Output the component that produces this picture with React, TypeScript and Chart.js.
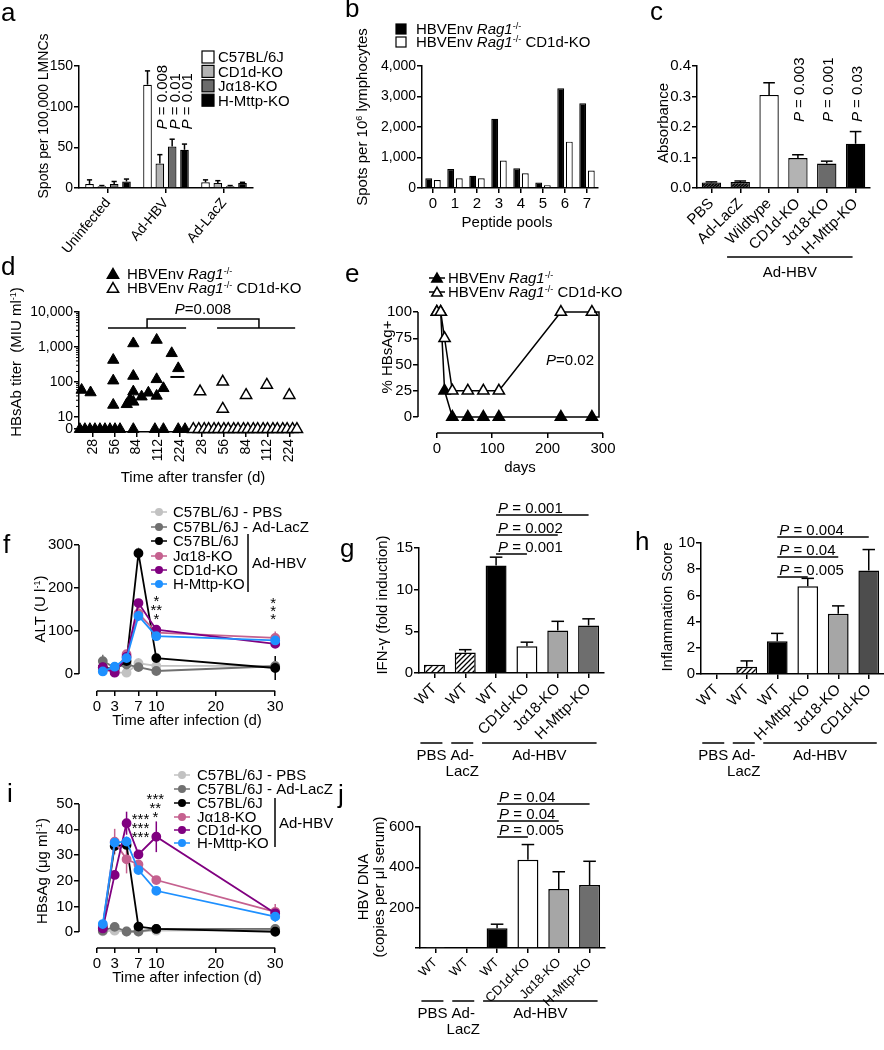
import React, { useEffect, useRef } from "react";
import { Chart, registerables } from "chart.js";

Chart.register(...registerables);

const PAGE_W = 884;
const PAGE_H = 1050;
const FONT = "'Liberation Sans', Arial, Helvetica, sans-serif";
const Y_BOX = 70;
const X_BOX = 90;

// ================= DATA =================
// panel a
const aGroups = ["Uninfected", "Ad-HBV", "Ad-LacZ"];
const aSeriesNames = ["C57BL/6J", "CD1d-KO", "Jα18-KO", "H-Mttp-KO"];
const aC57 = [5, 127, 7];
const aC57Err = [5, 17, 3];
const aCD1d = [2, 30, 6];
const aCD1dErr = [1, 11, 3];
const aJa18 = [5, 51, 2];
const aJa18Err = [3, 9, 1];
const aHMttp = [8, 47, 6];
const aHMttpErr = [3, 7, 1];
const aPValues = ["0.008", "0.01", "0.01"];
const aTicks = [0, 50, 100, 150];

// panel b
const bPools = ["0", "1", "2", "3", "4", "5", "6", "7"];
const bRag1 = [320, 620, 400, 2270, 650, 180, 3270, 2780];
const bRag1CD1d = [260, 320, 320, 900, 480, 90, 1520, 570];
const bTicks = [0, 1000, 2000, 3000, 4000];

// panel c
const cLabels = ["PBS", "Ad-LacZ", "Wildtype", "CD1d-KO", "Jα18-KO", "H-Mttp-KO"];
const cValues = [0.018, 0.02, 0.305, 0.098, 0.08, 0.145];
const cErrors = [0.002, 0.003, 0.04, 0.011, 0.008, 0.04];
const cPValues = ["", "", "", "0.003", "0.001", "0.03"];
const cTicks = [0, 0.1, 0.2, 0.3, 0.4];

// panel d (x = time-point index incl. horizontal spread, y = titer)
const dTickLabels = ["28", "56", "84", "112", "224", "28", "56", "84", "112", "224"];
const dRagPos = [-0.52, -0.11, 0.93, 0.93, 0.93, 1.55, 1.7, 1.85, 1.85, 1.85, 1.85, 2.23, 2.54, 2.92, 2.92, 2.92, 3.23, 3.61, 3.91,
  -0.6, -0.37, -0.14, 0.09, 0.32, 0.55, 0.78, 1.01, 1.24, 1.85, 2.84, 3.23, 3.91, 4.22];
const dRagTiter = [59, 50, 424, 109, 22, 23, 32, 1260, 148, 53, 27, 38, 49, 1585, 119, 40, 66, 660, 245,
  0, 0, 0, 0, 0, 0, 0, 0, 0, 0, 0, 0, 0, 0];
const dCD1dPos = [4.91, 5.95, 5.95, 7.02, 7.97, 9.0,
  4.6, 4.85, 5.1, 5.3, 5.55, 5.75, 6.0, 6.2, 6.45, 6.65, 6.9, 7.1, 7.35, 7.55, 7.8, 8.0, 8.25, 8.45, 8.7, 8.9, 9.15, 9.35];
const dCD1dTiter = [53, 101, 17, 42, 82, 42,
  0, 0, 0, 0, 0, 0, 0, 0, 0, 0, 0, 0, 0, 0, 0, 0, 0, 0, 0, 0, 0, 0];
const dMedianPos = [3.55, 4.2];
const dMedianTiter = [139, 139];
const dTiterTicks = [0, 10, 100, 1000, 10000];

// panel e
const eDays = [0, 7, 14, 28, 56, 84, 112, 224, 280];
const eRag1 = [100, 100, 25, 0, 0, 0, 0, 0, 0];
const eRag1CD1d = [100, 100, 75, 25, 25, 25, 25, 100, 100];
const eXTicks = [0, 100, 200, 300];
const eYTicks = [0, 25, 50, 75, 100];

// panel f (ALT)
const fDays = [1, 3, 5, 7, 10, 30];
const fPBS = [12, 4, 3, 25, 19, 19];
const fPBSErr = [5, 2, 2, 12, 5, 5];
const fLacZ = [30, 15, 22, 16, 7, 18];
const fLacZErr = [15, 4, 6, 5, 3, 8];
const fC57 = [15, 12, 30, 281, 37, 14];
const fC57Err = [5, 3, 5, 0, 4, 28];
const fJa18 = [10, 6, 46, 141, 96, 84];
const fJa18Err = [4, 2, 5, 15, 10, 15];
const fCD1d = [16, 3, 40, 165, 103, 70];
const fCD1dErr = [4, 1, 5, 5, 8, 8];
const fHMttp = [6, 17, 37, 135, 88, 78];
const fHMttpErr = [3, 3, 8, 12, 8, 12];
const fXTicks = [0, 3, 7, 10, 20, 30];
const fYTicks = [0, 100, 200, 300];

// panel i (HBsAg)
const iPBS = [0.3, 0.5, 0.2, 0.2, 0.5, 0.8];
const iPBSErr = [0.3, 0.3, 0.2, 0.2, 0.3, 0.3];
const iLacZ = [0.5, 2.0, 0.2, 0.2, 1.2, 1.2];
const iLacZErr = [0.3, 0.5, 0.2, 0.2, 0.3, 0.3];
const iC57 = [2, 33.6, 34, 2.1, 1.2, 0.1];
const iC57Err = [0.5, 1.5, 1.5, 0.5, 0.3, 0.2];
const iJa18 = [2.5, 35.3, 28.4, 26.4, 20.3, 7.9];
const iJa18Err = [0.5, 5, 5.5, 1.5, 1.5, 3];
const iCD1d = [1.4, 22.3, 42.5, 30.3, 37.2, 7.3];
const iCD1dErr = [0.5, 1, 4.5, 1.5, 6, 1];
const iHMttp = [3.1, 34.9, 35.3, 24.2, 16.1, 6.0];
const iHMttpErr = [0.5, 1.5, 2, 1.5, 1.5, 2];
const iYTicks = [0, 10, 20, 30, 40, 50];

const lineNames = ["C57BL/6J - PBS", "C57BL/6J - Ad-LacZ", "C57BL/6J", "Jα18-KO", "CD1d-KO", "H-Mttp-KO"];
const lineColors = ["#c2c2c2", "#707070", "#000000", "#c5618f", "#800080", "#1e90ff"];

// panel g
const gLabels = ["WT", "WT", "WT", "CD1d-KO", "Jα18-KO", "H-Mttp-KO"];
const gValues = [1.0, 2.45, 12.9, 3.2, 5.1, 5.7];
const gErrors = [0, 0.35, 1.0, 0.5, 1.1, 0.8];
const gTicks = [0, 5, 10, 15];
const gPTargets = [5, 4, 3];
const gPValues = ["0.001", "0.002", "0.001"];

// panel h
const hLabels = ["WT", "WT", "WT", "H-Mttp-KO", "Jα18-KO", "CD1d-KO"];
const hValues = [0, 0.55, 2.5, 6.7, 4.6, 7.9];
const hErrors = [0, 0.45, 0.6, 0.6, 0.6, 1.6];
const hTicks = [0, 2, 4, 6, 8, 10];
const hPTargets = [5, 4, 3];
const hPValues = ["0.004", "0.04", "0.005"];

// panel j
const jLabels = ["WT", "WT", "WT", "CD1d-KO", "Jα18-KO", "H-Mttp-KO"];
const jValues = [2, 3, 98, 437, 292, 312];
const jErrors = [0, 0, 20, 76, 86, 118];
const jTicks = [0, 200, 400, 600];
const jPTargets = [5, 4, 3];
const jPValues = ["0.04", "0.04", "0.005"];

const groupDefs = [
  { from: 0, to: 0, lines: ["PBS"] },
  { from: 1, to: 1, lines: ["Ad-", "LacZ"] },
  { from: 2, to: 5, lines: ["Ad-HBV"] },
];

// ================= HELPERS =================
type Seg = { t: string; i?: boolean; sup?: boolean };
type Box = { left: number; top: number; right: number; bottom: number };

function rich(ctx: any, segs: Seg[], x: number, y: number, size: number, align = "left", rot = 0) {
  ctx.save();
  ctx.translate(x, y);
  if (rot) ctx.rotate(rot);
  ctx.textBaseline = "alphabetic";
  ctx.textAlign = "left";
  ctx.fillStyle = "#000";
  const supSize = Math.round(size * 0.62);
  const font = (s: Seg) => `${s.i ? "italic " : ""}${s.sup ? supSize : size}px ${FONT}`;
  const widths = segs.map((s) => {
    ctx.font = font(s);
    return ctx.measureText(s.t).width;
  });
  const total = widths.reduce((a, b) => a + b, 0);
  let cx = align === "left" ? 0 : align === "center" ? -total / 2 : -total;
  const base = size * 0.36;
  segs.forEach((s, k) => {
    ctx.font = font(s);
    ctx.fillText(s.t, cx, base - (s.sup ? size * 0.38 : 0));
    cx += widths[k];
  });
  ctx.restore();
}

function stroke(ctx: any, pts: number[][], w = 1.5, color = "#000") {
  ctx.save();
  ctx.strokeStyle = color;
  ctx.lineWidth = w;
  ctx.beginPath();
  pts.forEach((p, k) => (k === 0 ? ctx.moveTo(p[0], p[1]) : ctx.lineTo(p[0], p[1])));
  ctx.stroke();
  ctx.restore();
}

function letter(ctx: any, ch: string, x: number, y: number) {
  ctx.save();
  ctx.font = `26px ${FONT}`;
  ctx.fillStyle = "#000";
  ctx.textAlign = "left";
  ctx.textBaseline = "alphabetic";
  ctx.fillText(ch, x, y);
  ctx.restore();
}

function pSegs(v: string, spaced = true): Seg[] {
  return [{ t: "P", i: true }, { t: spaced ? " = " + v : "=" + v }];
}

function stars(ctx: any, rows: string[], x: number, ys: number[], size = 15) {
  ctx.save();
  ctx.font = `${size}px ${FONT}`;
  ctx.fillStyle = "#000";
  ctx.textAlign = "center";
  ctx.textBaseline = "alphabetic";
  rows.forEach((r, k) => ctx.fillText(r, x, ys[k] + size * 0.57));
  ctx.restore();
}

function tri(ctx: any, x: number, y: number, r: number, filled: boolean) {
  ctx.save();
  ctx.beginPath();
  ctx.moveTo(x, y - r);
  ctx.lineTo(x + r * 0.866, y + r * 0.5);
  ctx.lineTo(x - r * 0.866, y + r * 0.5);
  ctx.closePath();
  ctx.fillStyle = filled ? "#000" : "#fff";
  ctx.fill();
  ctx.strokeStyle = "#000";
  ctx.lineWidth = 1.5;
  ctx.stroke();
  ctx.restore();
}

function hatch(bg: string, fg: string, step: number, lw: number) {
  const c = document.createElement("canvas");
  c.width = step;
  c.height = step;
  const g = c.getContext("2d") as any;
  g.fillStyle = bg;
  g.fillRect(0, 0, step, step);
  g.strokeStyle = fg;
  g.lineWidth = lw;
  g.beginPath();
  g.moveTo(-1, step + 1);
  g.lineTo(step + 1, -1);
  g.moveTo(-1, 1);
  g.lineTo(1, -1);
  g.moveTo(step - 1, step + 1);
  g.lineTo(step + 1, step - 1);
  g.stroke();
  return g.createPattern(c, "repeat");
}

function gridOpts(offset = false) {
  return { display: true, drawOnChartArea: false, drawTicks: true, tickLength: 5, color: "#000", lineWidth: 1.5, offset };
}

function yLinear(min: number, max: number, ticks: number[], size: number, fmt?: any, border = true) {
  return {
    type: "linear",
    position: "left",
    min,
    max,
    afterBuildTicks: (s: any) => {
      s.ticks = ticks.map((v) => ({ value: v }));
    },
    afterFit: (s: any) => {
      s.width = Y_BOX;
    },
    ticks: { font: { size, family: FONT }, color: "#000", padding: 1, callback: (v: number, i: number) => (fmt ? fmt(v, i) : String(v)) },
    grid: gridOpts(),
    border: { display: border, color: "#000", width: 1.5 },
  };
}

function xLinear(min: number, max: number, ticks: number[], size: number, fmt?: any, rotation = 0, border = true) {
  return {
    type: "linear",
    position: "bottom",
    min,
    max,
    afterBuildTicks: (s: any) => {
      s.ticks = ticks.map((v) => ({ value: v }));
    },
    afterFit: (s: any) => {
      s.height = X_BOX;
    },
    ticks: {
      font: { size, family: FONT },
      color: "#000",
      padding: 2,
      autoSkip: false,
      minRotation: rotation,
      maxRotation: rotation,
      callback: (v: number, i: number) => (fmt ? fmt(v, i) : String(v)),
    },
    grid: gridOpts(),
    border: { display: border, color: "#000", width: 1.5 },
  };
}

function xCategory(size: number, rotation: number) {
  return {
    type: "category",
    position: "bottom",
    offset: true,
    afterFit: (s: any) => {
      s.height = X_BOX;
    },
    ticks: { font: { size, family: FONT }, color: "#000", autoSkip: false, minRotation: rotation, maxRotation: rotation, padding: 2 },
    grid: gridOpts(false),
    border: { display: true, color: "#000", width: 1.5 },
  };
}

function baseOptions(box: Box, scales: any) {
  return {
    responsive: false,
    maintainAspectRatio: false,
    animation: false,
    devicePixelRatio: 1,
    events: [],
    layout: {
      padding: { left: box.left - Y_BOX, top: box.top, right: PAGE_W - box.right, bottom: PAGE_H - box.bottom - X_BOX },
    },
    plugins: { legend: { display: false }, tooltip: { enabled: false }, title: { display: false } },
    scales,
  };
}

const errorBarPlugin = {
  id: "errorBars",
  beforeDatasetsDraw(chart: any) {
    const ctx = chart.ctx;
    chart.data.datasets.forEach((ds: any, i: number) => {
      if (!ds.errors) return;
      const meta = chart.getDatasetMeta(i);
      const ys = chart.scales[meta.yAxisID];
      meta.data.forEach((el: any, j: number) => {
        const e = ds.errors[j];
        if (!e) return;
        const raw = ds.data[j];
        const v = typeof raw === "number" ? raw : raw.y;
        const top = ys.getPixelForValue(v + e);
        if (meta.type === "bar") {
          const cap = el.width * 0.3;
          stroke(ctx, [[el.x, el.y], [el.x, top]], 1.5);
          stroke(ctx, [[el.x - cap, top], [el.x + cap, top]], 1.5);
        } else {
          const bot = ys.getPixelForValue(v - e);
          stroke(ctx, [[el.x, top], [el.x, bot]], 1.5, ds.borderColor);
        }
      });
    });
  },
};

function pBrackets(ctx: any, xs: any, from: number, targets: number[], values: string[], ys: number[], size = 15) {
  const x0 = xs.getPixelForValue(from);
  targets.forEach((t, k) => {
    stroke(ctx, [[x0, ys[k]], [xs.getPixelForValue(t), ys[k]]], 1.5);
    rich(ctx, pSegs(values[k]), x0 + 2, ys[k] - 7.5, size, "left");
  });
}

function groupLabels(ctx: any, xs: any, lineY: number, textY: number, size = 15) {
  groupDefs.forEach((g) => {
    const x1 = xs.getPixelForValue(g.from) - 14;
    const x2 = xs.getPixelForValue(g.to) + 8;
    stroke(ctx, [[x1, lineY], [x2, lineY]], 1.5);
    g.lines.forEach((ln, k) => rich(ctx, [{ t: ln }], (x1 + x2) / 2, textY + k * 16, size, "center"));
  });
}

function lineLegend(ctx: any, x: number, textX: number, ys: number[], bracketX: number, bracketY: number[], hbvY: number) {
  lineNames.forEach((n, k) => {
    stroke(ctx, [[x - 8, ys[k]], [x + 8, ys[k]]], 1.5, lineColors[k]);
    ctx.save();
    ctx.fillStyle = lineColors[k];
    ctx.beginPath();
    ctx.arc(x, ys[k], 4, 0, Math.PI * 2);
    ctx.fill();
    ctx.restore();
    rich(ctx, [{ t: n }], textX, ys[k], 15, "left");
  });
  stroke(ctx, [[bracketX, bracketY[0]], [bracketX, bracketY[1]]], 1.5);
  rich(ctx, [{ t: "Ad-HBV" }], bracketX + 4, hbvY, 15, "left");
}

function lineSeries(days: number[], values: number[][], errors: number[][]) {
  return values.map((vals, k) => ({
    label: lineNames[k],
    data: days.map((d, j) => ({ x: d, y: vals[j] })),
    errors: errors[k],
    borderColor: lineColors[k],
    backgroundColor: lineColors[k],
    pointBackgroundColor: lineColors[k],
    pointBorderColor: lineColors[k],
    pointRadius: 4,
    borderWidth: 1.8,
    order: 6 - k,
    clip: false,
  }));
}

// ================= PANELS =================
function panelA() {
  const box = { left: 79, top: 66, right: 253, bottom: 188 };
  const colors = ["#ffffff", "#b3b3b3", "#6b6b6b", "#000000"];
  const values = [aC57, aCD1d, aJa18, aHMttp];
  const errors = [aC57Err, aCD1dErr, aJa18Err, aHMttpErr];
  return {
    type: "bar",
    data: {
      labels: aGroups,
      datasets: values.map((d, k) => ({
        label: aSeriesNames[k],
        data: d,
        errors: errors[k],
        backgroundColor: colors[k],
        borderColor: "#000",
        borderWidth: 1.2,
        categoryPercentage: 0.85,
        barPercentage: 0.7,
      })),
    },
    options: baseOptions(box, { x: xCategory(14, 50), y: yLinear(0, 150, aTicks, 14) }),
    plugins: [
      errorBarPlugin,
      {
        id: "decoA",
        afterDraw(chart: any) {
          const ctx = chart.ctx;
          const ys = chart.scales.y;
          letter(ctx, "a", 1, 21);
          rich(ctx, [{ t: "Spots per 100,000 LMNCs" }], 43, 116, 14, "center", -Math.PI / 2);
          for (let k = 1; k < 4; k++) {
            const el = chart.getDatasetMeta(k).data[1];
            rich(ctx, pSegs(aPValues[k - 1]), el.x + 2, ys.getPixelForValue(72), 15, "left", -Math.PI / 2);
          }
          aSeriesNames.forEach((n, k) => {
            const y = 57 + k * 14.4;
            ctx.save();
            ctx.fillStyle = colors[k];
            ctx.fillRect(202, y - 6, 12, 12);
            ctx.strokeStyle = "#000";
            ctx.lineWidth = 1.2;
            ctx.strokeRect(202, y - 6, 12, 12);
            ctx.restore();
            rich(ctx, [{ t: n }], 218, y, 15, "left");
          });
        },
      },
    ],
  };
}

function panelB() {
  const box = { left: 422, top: 66, right: 598, bottom: 188 };
  return {
    type: "bar",
    data: {
      labels: bPools,
      datasets: [
        { label: "HBVEnv Rag1-/-", data: bRag1, backgroundColor: "#000", borderColor: "#000", borderWidth: 1.2, categoryPercentage: 0.78, barPercentage: 0.8 },
        { label: "HBVEnv Rag1-/- CD1d-KO", data: bRag1CD1d, backgroundColor: "#fff", borderColor: "#000", borderWidth: 1.2, categoryPercentage: 0.78, barPercentage: 0.8 },
      ],
    },
    options: baseOptions(box, {
      x: xCategory(15, 0),
      y: yLinear(0, 4000, bTicks, 14, (v: number) => v.toLocaleString("en-US")),
    }),
    plugins: [
      {
        id: "decoB",
        afterDraw(chart: any) {
          const ctx = chart.ctx;
          letter(ctx, "b", 345, 17);
          rich(ctx, [{ t: "Spots per 10" }, { t: "6", sup: true }, { t: " lymphocytes" }], 362, 117, 15, "center", -Math.PI / 2);
          rich(ctx, [{ t: "Peptide pools" }], 507, 222, 15, "center");
          ctx.save();
          ctx.fillStyle = "#000";
          ctx.fillRect(396, 24, 10, 10);
          ctx.fillStyle = "#fff";
          ctx.fillRect(396, 37, 10, 10);
          ctx.strokeStyle = "#000";
          ctx.lineWidth = 1.2;
          ctx.strokeRect(396, 24, 10, 10);
          ctx.strokeRect(396, 37, 10, 10);
          ctx.restore();
          rich(ctx, [{ t: "HBVEnv " }, { t: "Rag1", i: true }, { t: "-/-", sup: true }], 416, 29, 15, "left");
          rich(ctx, [{ t: "HBVEnv " }, { t: "Rag1", i: true }, { t: "-/-", sup: true }, { t: " CD1d-KO" }], 416, 42, 15, "left");
        },
      },
    ],
  };
}

function panelC() {
  const box = { left: 697, top: 66, right: 870, bottom: 188 };
  const dark = hatch("#555", "#000", 3.5, 1.3);
  return {
    type: "bar",
    data: {
      labels: cLabels,
      datasets: [
        {
          data: cValues,
          errors: cErrors,
          backgroundColor: [dark, dark, "#fff", "#b3b3b3", "#6b6b6b", "#000"],
          borderColor: "#000",
          borderWidth: 1.3,
          categoryPercentage: 0.8,
          barPercentage: 0.84,
        },
      ],
    },
    options: baseOptions(box, { x: xCategory(15, 45), y: yLinear(0, 0.4, cTicks, 15, (v: number) => v.toFixed(1)) }),
    plugins: [
      errorBarPlugin,
      {
        id: "decoC",
        afterDraw(chart: any) {
          const ctx = chart.ctx;
          const xs = chart.scales.x;
          const ys = chart.scales.y;
          letter(ctx, "c", 650, 20);
          rich(ctx, [{ t: "Absorbance" }], 663, 123, 15, "center", -Math.PI / 2);
          cPValues.forEach((p, k) => {
            if (!p) return;
            rich(ctx, pSegs(p), xs.getPixelForValue(k) + 1, ys.getPixelForValue(0.216), 15, "left", -Math.PI / 2);
          });
          const x1 = xs.getPixelForValue(2) - 42;
          const x2 = xs.getPixelForValue(5) - 3;
          stroke(ctx, [[x1, 257], [x2, 257]], 1.5);
          rich(ctx, [{ t: "Ad-HBV" }], (x1 + x2) / 2, 272, 15, "center");
        },
      },
    ],
  };
}

const D_ZERO = 0.65;
function dLog(v: number) {
  return v <= 0 ? D_ZERO : Math.log10(v);
}

function panelD() {
  const box = { left: 79, top: 312, right: 298, bottom: 432 };
  const ptsOf = (pos: number[], vals: number[]) => pos.map((x, k) => ({ x, y: dLog(vals[k]) }));
  return {
    type: "scatter",
    data: {
      datasets: [
        {
          label: "HBVEnv Rag1-/-",
          data: ptsOf(dRagPos, dRagTiter),
          pointStyle: "triangle",
          pointRadius: 6.5,
          pointBackgroundColor: "#000",
          pointBorderColor: "#000",
          pointBorderWidth: 1,
          order: 1,
          clip: false,
        },
        {
          label: "HBVEnv Rag1-/- CD1d-KO",
          data: ptsOf(dCD1dPos, dCD1dTiter),
          pointStyle: "triangle",
          pointRadius: 6.5,
          pointBackgroundColor: "#fff",
          pointBorderColor: "#000",
          pointBorderWidth: 1.5,
          order: 0,
          clip: false,
        },
        {
          label: "median",
          data: ptsOf(dMedianPos, dMedianTiter),
          showLine: true,
          pointRadius: 0,
          borderColor: "#000",
          borderWidth: 2,
          order: 2,
        },
      ],
    },
    options: baseOptions(box, {
      x: xLinear(-0.64, 9.4, dTickLabels.map((_, k) => k), 14, (v: number, i: number) => dTickLabels[i], 90),
      y: yLinear(0.57, 4, dTiterTicks.map(dLog), 14, (v: number, i: number) => dTiterTicks[i].toLocaleString("en-US")),
    }),
    plugins: [
      {
        id: "decoD",
        afterDraw(chart: any) {
          const ctx = chart.ctx;
          const xs = chart.scales.x;
          const ys = chart.scales.y;
          letter(ctx, "d", 1, 275);
          const left = chart.chartArea.left;
          for (let dec = 1; dec < 4; dec++) {
            for (let m = 2; m < 10; m++) {
              const y = ys.getPixelForValue(dec + Math.log10(m));
              stroke(ctx, [[left - 3, y], [left, y]], 1);
            }
          }
          rich(ctx, [{ t: "HBsAb titer  (MIU ml" }, { t: "-1", sup: true }, { t: ")" }], 16, 362, 15, "center", -Math.PI / 2);
          rich(ctx, [{ t: "Time after transfer (d)" }], 193, 477, 15, "center");
          tri(ctx, 113, 275, 6.5, true);
          tri(ctx, 113, 289, 6.5, false);
          rich(ctx, [{ t: "HBVEnv " }, { t: "Rag1", i: true }, { t: "-/-", sup: true }], 127, 274, 15, "left");
          rich(ctx, [{ t: "HBVEnv " }, { t: "Rag1", i: true }, { t: "-/-", sup: true }, { t: " CD1d-KO" }], 127, 288, 15, "left");
          const yl = 328;
          const yt = 319;
          stroke(ctx, [[xs.getPixelForValue(0.69), yl], [xs.getPixelForValue(4.27), yl]], 1.5);
          stroke(ctx, [[xs.getPixelForValue(5.69), yl], [xs.getPixelForValue(9.27), yl]], 1.5);
          const c1 = xs.getPixelForValue(2.48);
          const c2 = xs.getPixelForValue(7.61);
          stroke(ctx, [[c1, yl], [c1, yt], [c2, yt], [c2, yl]], 1.5);
          rich(ctx, pSegs("0.008", false), (c1 + c2) / 2, 309, 15, "center");
        },
      },
    ],
  };
}

function panelE() {
  const box = { left: 418, top: 312, right: 603, bottom: 433 };
  const mk = (vals: number[], filled: boolean, order: number) => ({
    data: eDays.map((d, k) => ({ x: d, y: vals[k] })),
    borderColor: "#000",
    borderWidth: 1.5,
    pointStyle: "triangle",
    pointRadius: 6.5,
    pointBackgroundColor: filled ? "#000" : "#fff",
    pointBorderColor: "#000",
    pointBorderWidth: 1.5,
    order,
    clip: false,
  });
  return {
    type: "line",
    data: { datasets: [mk(eRag1, true, 1), mk(eRag1CD1d, false, 0)] },
    options: baseOptions(box, {
      x: xLinear(-34, 300, eXTicks, 15, undefined, 0, false),
      y: yLinear(-15.2, 100, eYTicks, 15, undefined, false),
    }),
    plugins: [
      {
        id: "decoE",
        afterDraw(chart: any) {
          const ctx = chart.ctx;
          const xs = chart.scales.x;
          const ys = chart.scales.y;
          const ca = chart.chartArea;
          letter(ctx, "e", 345, 282);
          stroke(ctx, [[ca.left, ys.getPixelForValue(0)], [ca.left, ys.getPixelForValue(100)]], 1.5);
          stroke(ctx, [[xs.getPixelForValue(0), ca.bottom], [xs.getPixelForValue(300), ca.bottom]], 1.5);
          rich(ctx, [{ t: "% HBsAg+" }], 387, 357, 15, "center", -Math.PI / 2);
          rich(ctx, [{ t: "days" }], 520, 467, 15, "center");
          stroke(ctx, [[429, 278], [445, 278]], 1.5);
          tri(ctx, 437, 279, 6, true);
          stroke(ctx, [[429, 292], [445, 292]], 1.5);
          tri(ctx, 437, 293, 6, false);
          rich(ctx, [{ t: "HBVEnv " }, { t: "Rag1", i: true }, { t: "-/-", sup: true }], 448, 278, 15, "left");
          rich(ctx, [{ t: "HBVEnv " }, { t: "Rag1", i: true }, { t: "-/-", sup: true }, { t: " CD1d-KO" }], 448, 292, 15, "left");
          const bx = 599;
          const y0 = ys.getPixelForValue(0);
          const y1 = ys.getPixelForValue(100);
          stroke(ctx, [[bx - 5, y1], [bx, y1], [bx, y0], [bx - 5, y0]], 1.5);
          rich(ctx, pSegs("0.02", false), 594, 360, 15, "right");
        },
      },
    ],
  };
}

function timeCourse(letterCh: string, box: Box, yMin: number, yMax: number, yTicks: number[], values: number[][], errors: number[][], deco: (chart: any) => void) {
  return {
    type: "line",
    data: { datasets: lineSeries(fDays, values, errors) },
    options: baseOptions(box, {
      x: xLinear(-3, 30.3, fXTicks, 15, undefined, 0, false),
      y: yLinear(yMin, yMax, yTicks, 15, undefined, false),
    }),
    plugins: [
      errorBarPlugin,
      {
        id: "deco" + letterCh,
        afterDraw(chart: any) {
          const ctx = chart.ctx;
          const xs = chart.scales.x;
          const ys = chart.scales.y;
          const ca = chart.chartArea;
          stroke(ctx, [[ca.left, ys.getPixelForValue(0)], [ca.left, ys.getPixelForValue(yMax)]], 1.5);
          stroke(ctx, [[xs.getPixelForValue(0), ca.bottom], [xs.getPixelForValue(30), ca.bottom]], 1.5);
          deco(chart);
        },
      },
    ],
  };
}

function panelF() {
  return timeCourse(
    "F",
    { left: 79, top: 545, right: 277, bottom: 691 },
    -39.5,
    300,
    fYTicks,
    [fPBS, fLacZ, fC57, fJa18, fCD1d, fHMttp],
    [fPBSErr, fLacZErr, fC57Err, fJa18Err, fCD1dErr, fHMttpErr],
    (chart: any) => {
      const ctx = chart.ctx;
      const xs = chart.scales.x;
      letter(ctx, "f", 3, 553);
      rich(ctx, [{ t: "ALT (U l" }, { t: "-1", sup: true }, { t: ")" }], 40, 609, 15, "center", -Math.PI / 2);
      rich(ctx, [{ t: "Time after infection (d)" }], 187, 720, 15, "center");
      stars(ctx, ["*", "**", "*"], xs.getPixelForValue(10), [597, 606, 615]);
      stars(ctx, ["*", "*", "*"], xs.getPixelForValue(30) - 2, [599, 607, 615]);
      lineLegend(ctx, 159, 173, [512, 527, 541, 556, 570, 584], 248, [534, 592], 563);
    }
  );
}

function panelI() {
  return timeCourse(
    "I",
    { left: 79, top: 804, right: 277, bottom: 948 },
    -6.25,
    50,
    iYTicks,
    [iPBS, iLacZ, iC57, iJa18, iCD1d, iHMttp],
    [iPBSErr, iLacZErr, iC57Err, iJa18Err, iCD1dErr, iHMttpErr],
    (chart: any) => {
      const ctx = chart.ctx;
      const xs = chart.scales.x;
      letter(ctx, "i", 7, 802);
      rich(ctx, [{ t: "HBsAg (μg ml" }, { t: "-1", sup: true }, { t: ")" }], 42, 871, 15, "center", -Math.PI / 2);
      rich(ctx, [{ t: "Time after infection (d)" }], 187, 977, 15, "center");
      stars(ctx, ["***", "***", "***"], xs.getPixelForValue(7) + 2, [815, 824, 833]);
      stars(ctx, ["***", "**", "*"], xs.getPixelForValue(10) - 1, [795, 804, 813]);
      lineLegend(ctx, 182, 197, [775, 789, 803, 817, 830, 843], 275, [798, 847], 823);
    }
  );
}

function barPanel(id: string, box: Box, labels: string[], values: number[], errors: number[], colors: any[], yMax: number, yTicks: number[], yFmt: any, labelSize: number, deco: (chart: any) => void) {
  return {
    type: "bar",
    data: {
      labels,
      datasets: [
        { data: values, errors, backgroundColor: colors, borderColor: "#000", borderWidth: 1.5, categoryPercentage: 0.8, barPercentage: 0.85 },
      ],
    },
    options: baseOptions(box, { x: xCategory(labelSize, 45), y: yLinear(0, yMax, yTicks, 15, yFmt) }),
    plugins: [errorBarPlugin, { id: "deco" + id, afterDraw: deco }],
  };
}

function panelG() {
  const colors = [hatch("#fff", "#000", 6, 1.3), hatch("#fff", "#000", 5, 1.3), "#000", "#fff", "#a6a6a6", "#6e6e6e"];
  return barPanel("G", { left: 419, top: 548, right: 604, bottom: 673 }, gLabels, gValues, gErrors, colors, 15, gTicks, undefined, 15, (chart: any) => {
    const ctx = chart.ctx;
    const xs = chart.scales.x;
    letter(ctx, "g", 340, 557);
    rich(ctx, [{ t: "IFN-γ (fold induction)" }], 382, 605, 15, "center", -Math.PI / 2);
    pBrackets(ctx, xs, 2, gPTargets, gPValues, [515, 535, 554]);
    groupLabels(ctx, xs, 743, 755);
  });
}

function panelH() {
  const colors = ["#fff", hatch("#fff", "#000", 5, 1.3), "#000", "#fff", "#a6a6a6", "#4d4d4d"];
  return barPanel("H", { left: 701, top: 543, right: 884, bottom: 674 }, hLabels, hValues, hErrors, colors, 10, hTicks, undefined, 15, (chart: any) => {
    const ctx = chart.ctx;
    const xs = chart.scales.x;
    letter(ctx, "h", 635, 550);
    rich(ctx, [{ t: "Inflammation Score" }], 667, 607, 15, "center", -Math.PI / 2);
    pBrackets(ctx, xs, 2, hPTargets, hPValues, [537, 557, 577]);
    groupLabels(ctx, xs, 743, 755);
  });
}

function panelJ() {
  const colors = ["#fff", "#fff", "#000", "#fff", "#a6a6a6", "#6e6e6e"];
  return barPanel("J", { left: 420, top: 827, right: 605, bottom: 948 }, jLabels, jValues, jErrors, colors, 600, jTicks, (v: number) => (v === 0 ? "" : String(v)), 13, (chart: any) => {
    const ctx = chart.ctx;
    const xs = chart.scales.x;
    letter(ctx, "j", 338, 803);
    rich(ctx, [{ t: "HBV DNA" }], 363, 887, 15, "center", -Math.PI / 2);
    rich(ctx, [{ t: "(copies per μl serum)" }], 379, 887, 15, "center", -Math.PI / 2);
    pBrackets(ctx, xs, 2, jPTargets, jPValues, [804, 821, 837]);
    groupLabels(ctx, xs, 1001, 1013);
  });
}

const builders = [panelA, panelB, panelC, panelD, panelE, panelF, panelG, panelH, panelI, panelJ];

export default function App() {
  const refs = useRef<(HTMLCanvasElement | null)[]>([]);
  useEffect(() => {
    Chart.defaults.font.family = FONT;
    Chart.defaults.color = "#000";
    const charts = builders.map((b, k) => new Chart(refs.current[k] as HTMLCanvasElement, b() as any));
    return () => charts.forEach((c) => c.destroy());
  }, []);
  return (
    <div style={{ position: "absolute", left: 0, top: 0, width: PAGE_W, height: PAGE_H, background: "#fff", overflow: "hidden" }}>
      {builders.map((_, k) => (
        <canvas
          key={k}
          ref={(el) => {
            refs.current[k] = el;
          }}
          width={PAGE_W}
          height={PAGE_H}
          style={{ position: "absolute", left: 0, top: 0 }}
        />
      ))}
    </div>
  );
}
